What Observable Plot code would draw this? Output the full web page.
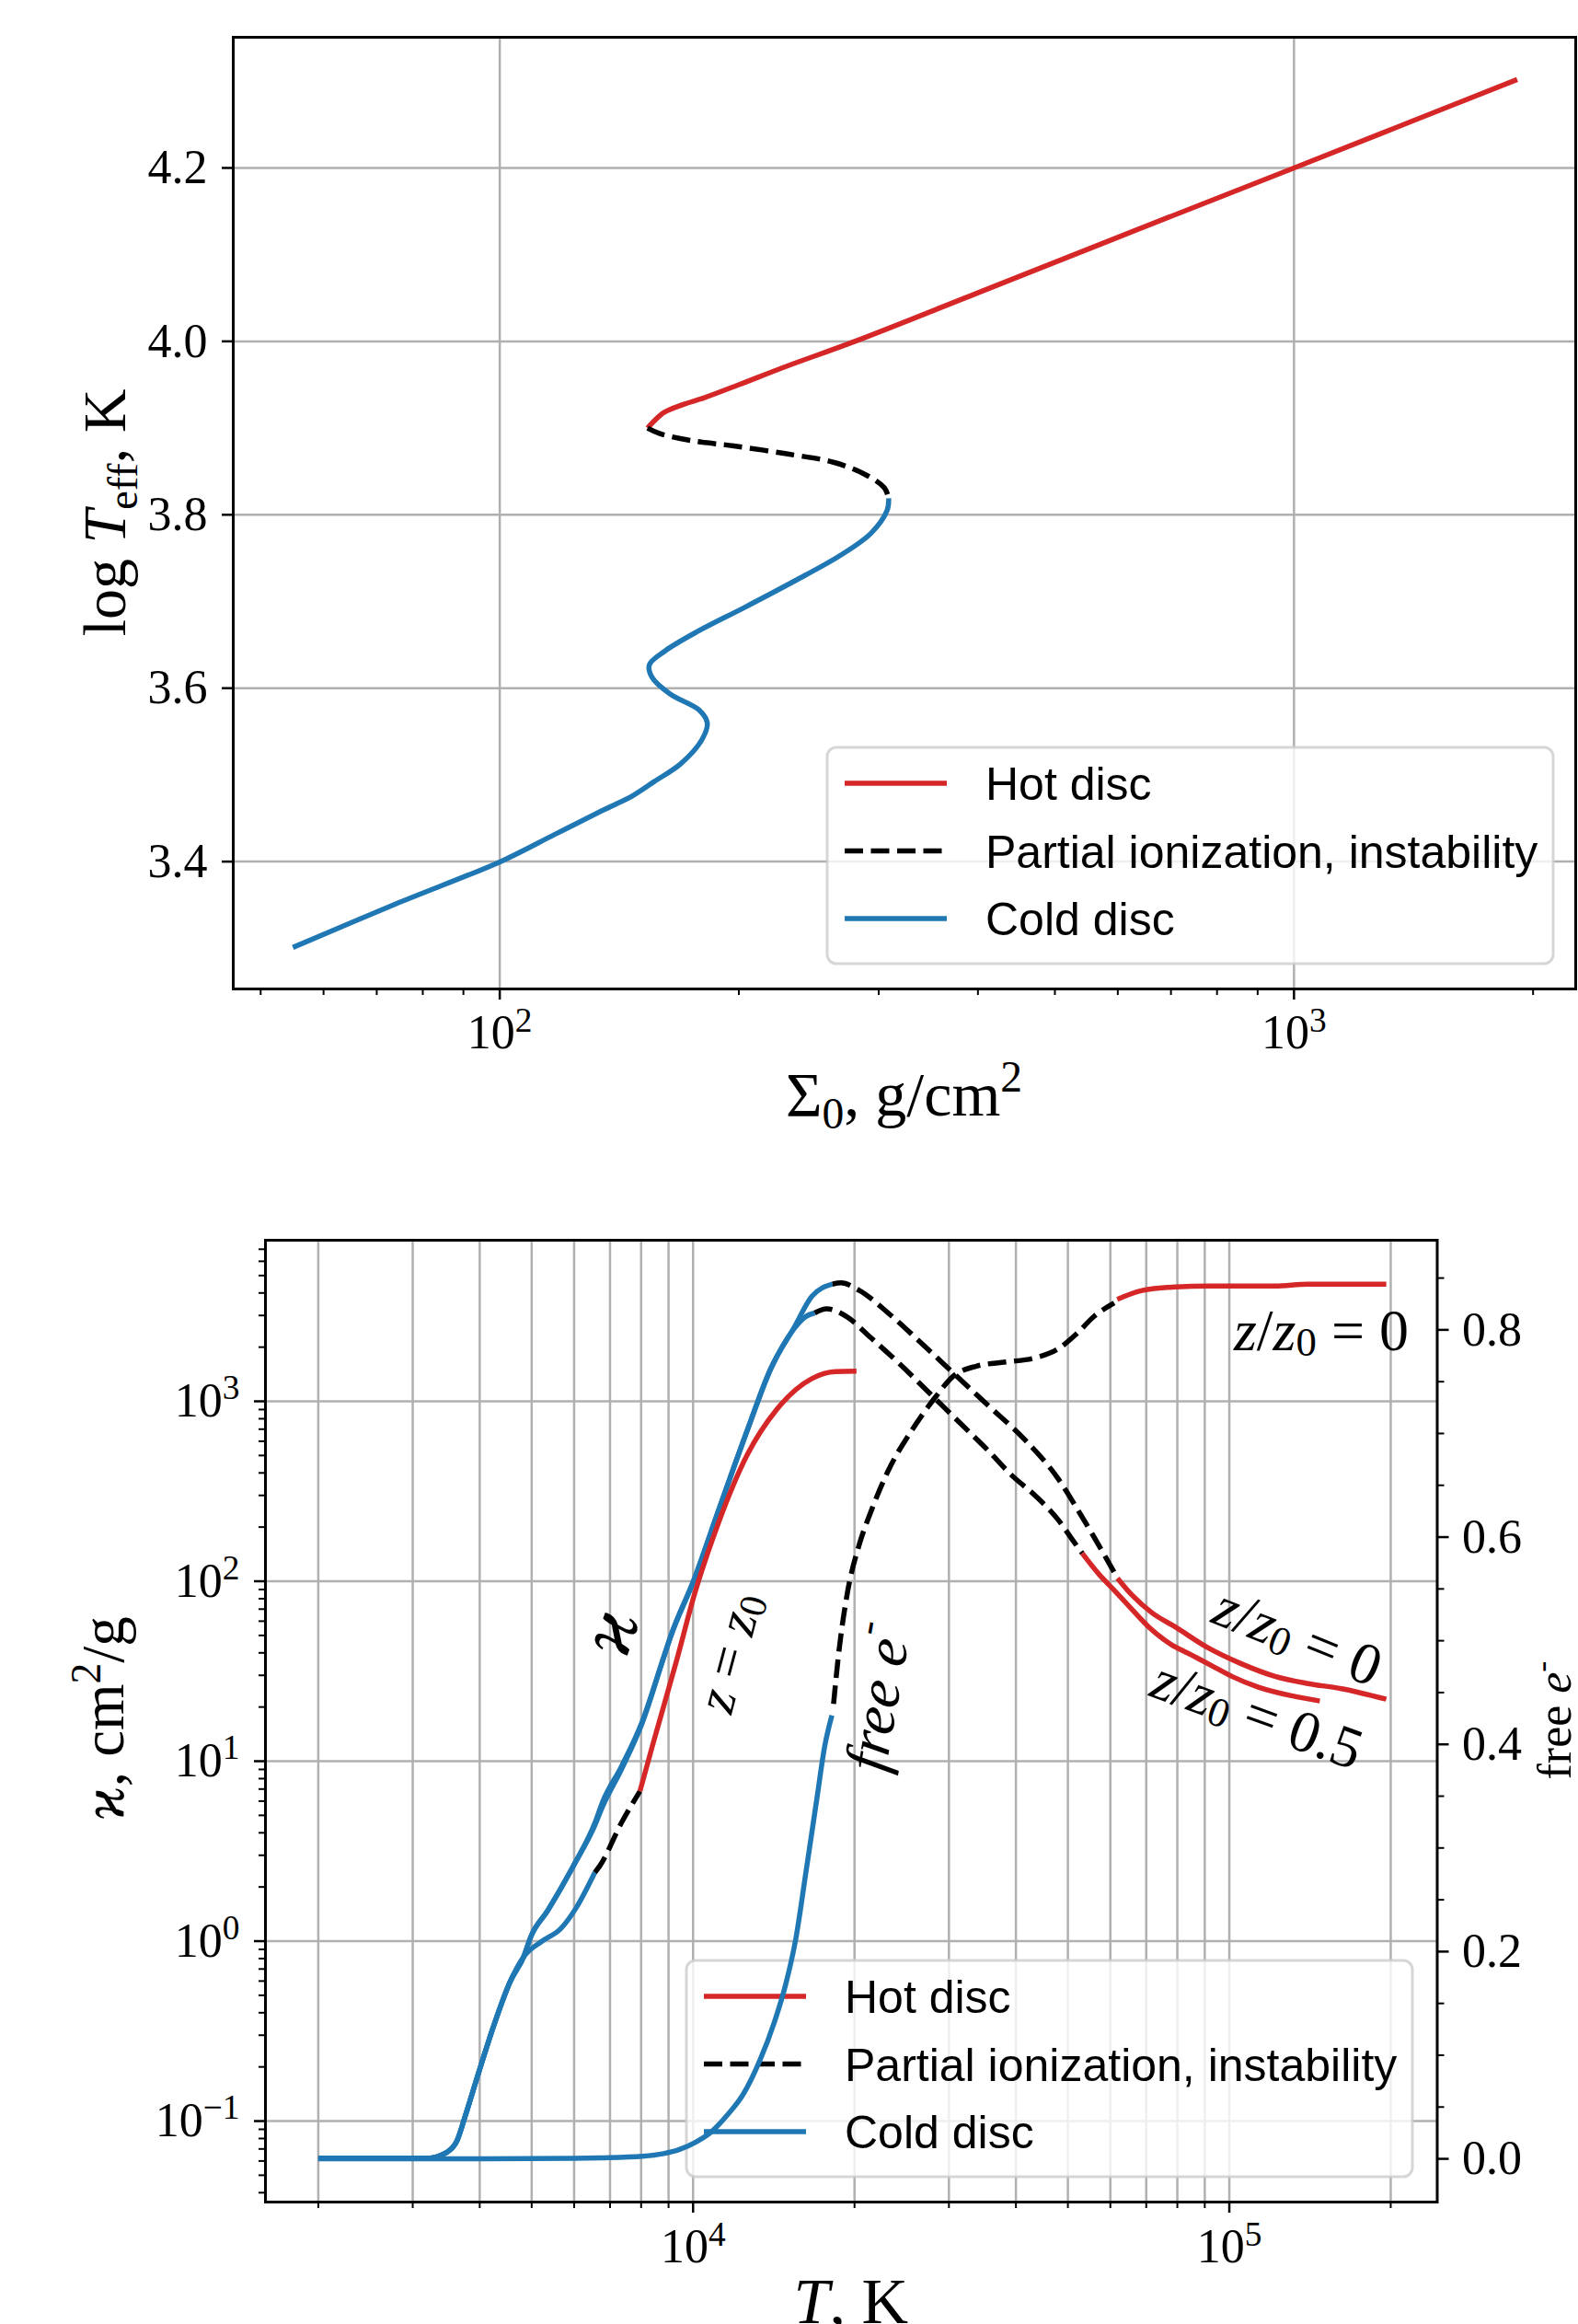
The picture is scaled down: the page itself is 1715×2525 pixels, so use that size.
<!DOCTYPE html>
<html>
<head>
<meta charset="utf-8">
<script src="https://cdn.jsdelivr.net/npm/d3@7"></script>
<script src="https://cdn.jsdelivr.net/npm/@observablehq/plot@0.6"></script>
<style>
  html, body { margin: 0; padding: 0; background: #fff; overflow: hidden; }
  #page { position: relative; width: 1715px; height: 2525px; overflow: hidden; background: #fff; }
  #page svg { position: absolute; left: 0; }
</style>
</head>
<body>
<div id="page"></div>
<script>
// ================= DATA =================
// ---- Top panel: log T_eff vs Sigma_0 (S-curve) ----
const hotSigma   = [153.5, 156, 161, 170, 181, 200, 230, 280, 400, 600, 1000, 1400, 1910];
const hotLogTeff = [3.900, 3.907, 3.918, 3.927, 3.935, 3.950, 3.9715, 4.000, 4.056, 4.120, 4.200, 4.253, 4.302];
const unstableSigma   = [153.5, 159.1, 174.4, 197.1, 229.7, 263.8, 289.1, 305, 308.8];
const unstableLogTeff = [3.900, 3.8936, 3.8855, 3.8794, 3.8703, 3.8603, 3.846, 3.831, 3.819];
const coldSigma   = [308.8, 307.4, 293.6, 267.7, 233.3, 203.2, 177.1, 161.5, 154.3, 155.5, 164.0, 178.4, 182.5, 179.8, 169.1, 156.5, 147, 138, 132.4, 117.1, 100.5, 73.9, 54.9];
const coldLogTeff = [3.819, 3.805, 3.779, 3.7525, 3.722, 3.693, 3.665, 3.643, 3.627, 3.6125, 3.593, 3.5745, 3.560, 3.541, 3.513, 3.4923, 3.476, 3.4636, 3.4556, 3.431, 3.4005, 3.351, 3.301];

// ---- Bottom panel: opacity kappa vs T (left axis) ----
// z/z0 = 0 (midplane)
const coldA_T     = [2000, 3170, 3470, 3630, 3760, 3980, 4260, 4560, 4830, 4990, 5350, 5990, 6560, 6780, 7350, 8050, 8810, 9090, 10060, 11120, 12620, 13960, 15440, 16650, 18190];
const coldA_kappa = [0.062, 0.062, 0.067, 0.078, 0.107, 0.185, 0.347, 0.596, 0.817, 1.07, 1.47, 2.64, 4.54, 5.94, 9.33, 16.8, 37.8, 49.9, 104, 242, 692, 1524, 2576, 3828, 4477];
const unstA_T     = [18190, 18890, 20390, 23110, 26220, 30510, 35510, 41300, 48060, 52490, 55940, 58800, 61860];
const unstA_kappa = [4477, 4550, 4140, 3097, 2203, 1445, 948, 624, 368, 242, 176, 136, 104];
const hotA_T      = [61860, 65880, 71780, 79300, 91500, 105500, 121700, 140300, 161800, 196200];
const hotA_kappa  = [104, 83.6, 66.7, 55.7, 42.5, 34.7, 29.6, 27.0, 25.3, 22.1];
// z/z0 = 0.5
const coldB_T     = [2000, 3170, 3470, 3630, 3760, 3980, 4260, 4560, 4830, 4990, 5350, 5990, 6560, 6780, 7350, 8050, 8810, 9090, 10060, 11120, 12620, 13960, 15440, 16200, 16860];
const coldB_kappa = [0.062, 0.062, 0.067, 0.078, 0.107, 0.185, 0.347, 0.596, 0.817, 1.07, 1.47, 2.64, 4.40, 5.60, 9.0, 16.5, 37.5, 49.6, 103, 240, 688, 1510, 2540, 2950, 3097];
const unstB_T     = [16860, 17740, 19380, 21440, 24320, 27590, 31300, 35510, 39280, 43450, 48060, 51200, 53180];
const unstB_kappa = [3097, 3266, 2944, 2259, 1607, 1112, 769, 532, 388, 299, 218, 167, 143];
const hotB_T      = [53180, 57140, 60500, 64950, 70760, 77090, 85150, 92800, 101100, 113300, 130700, 147500];
const hotB_kappa  = [143, 109.4, 91.4, 72.9, 55.7, 45.4, 38.8, 33.9, 29.6, 25.8, 23.1, 21.6];
// z = z0 (surface)
const coldC_T     = [2000, 3170, 3470, 3630, 3760, 3980, 4260, 4560, 4830, 5230, 5660, 6060, 6560];
const coldC_kappa = [0.062, 0.062, 0.067, 0.078, 0.107, 0.185, 0.347, 0.596, 0.817, 1.00, 1.17, 1.54, 2.41];
const unstC_T     = [6560, 6710, 7350, 7960];
const unstC_kappa = [2.41, 2.64, 4.54, 6.81];
const hotC_T      = [7960, 8425, 9320, 10055, 11120, 12620, 14315, 16650, 18420, 20170];
const hotC_kappa  = [6.81, 12.6, 36.4, 84.3, 206.5, 504.7, 899.5, 1337, 1462, 1469];

// ---- Bottom panel: fraction of free electrons (right axis) ----
const coldE_T    = [2000, 4000, 6000, 6710, 8050, 8810, 9430, 10100, 10810, 11570, 12390, 13270, 14200, 14860, 15540, 16270, 17020, 17610, 18150];
const coldE_free = [0, 0, 0.0005, 0.001, 0.0025, 0.005, 0.009, 0.016, 0.026, 0.042, 0.062, 0.093, 0.133, 0.167, 0.212, 0.280, 0.348, 0.399, 0.428];
const unstE_T    = [18280, 18660, 19380, 20390, 21440, 23110, 25580, 28300, 30510, 33750, 38290, 43450, 48060, 51850, 55940, 61000];
const unstE_free = [0.439, 0.485, 0.545, 0.592, 0.624, 0.664, 0.703, 0.735, 0.755, 0.765, 0.769, 0.773, 0.782, 0.796, 0.813, 0.826];
const hotE_T     = [61800, 68770, 79300, 91500, 121650, 140290, 196200];
const hotE_free  = [0.8295, 0.838, 0.8414, 0.8424, 0.8424, 0.8441, 0.8441];

// ---- Ticks ----
const topXMajor = [100, 1000];
const topXMinor = [50, 60, 70, 80, 90, 200, 300, 400, 500, 600, 700, 800, 900, 2000];
const topYTicks = [3.4, 3.6, 3.8, 4.0, 4.2];
const botXMajor = [10000, 100000];
const botXMinor = [2000, 3000, 4000, 5000, 6000, 7000, 8000, 9000, 20000, 30000, 40000, 50000, 60000, 70000, 80000, 90000, 200000];
const kappaMajor = [0.1, 1, 10, 100, 1000];
const kappaMinor = [0.04, 0.05, 0.06, 0.07, 0.08, 0.09, 0.2, 0.3, 0.4, 0.5, 0.6, 0.7, 0.8, 0.9, 2, 3, 4, 5, 6, 7, 8, 9, 20, 30, 40, 50, 60, 70, 80, 90, 200, 300, 400, 500, 600, 700, 800, 900, 2000, 3000, 4000, 5000, 6000, 7000];
const freeMajor = [0, 0.2, 0.4, 0.6, 0.8];
const freeMinor = [0.05, 0.1, 0.15, 0.25, 0.3, 0.35, 0.45, 0.5, 0.55, 0.65, 0.7, 0.75, 0.85];

// ---- Legend / annotations ----
const legendLabels = ["Hot disc", "Partial ionization, instability", "Cold disc"];
const annoT     = [6950, 11700, 22080, 148700, 134700, 113200];
const annoKappa = [52.6, 40.1, 22.5, 2478, 49.5, 18.2];

// ================= STYLE =================
const RED = "#d62728", BLUE = "#1f77b4", BLACK = "#000000", GRID = "#b0b0b0";
const SERIF = "'Liberation Serif', 'DejaVu Serif', serif";
const SANS = "'Liberation Sans', Arial, sans-serif";
const LW = 5.5, DASH = "20,8.5";
const TICK_FS = 52;

const rows = (xs, ys) => xs.map((x, i) => ({x, y: ys[i]}));
const SUP = {"-": "⁻", "0": "⁰", "1": "¹", "2": "²", "3": "³", "4": "⁴", "5": "⁵", "6": "⁶", "7": "⁷", "8": "⁸", "9": "⁹"};
const pow10 = d => "10" + String(Math.round(Math.log10(d))).split("").map(c => SUP[c]).join("");
const blank = () => "";

function solid(data, color, curve) {
  return Plot.line(data, {x: "x", y: "y", stroke: color, strokeWidth: LW, curve, strokeLinecap: "butt"});
}
function dashed(data, curve) {
  return Plot.line(data, {x: "x", y: "y", stroke: BLACK, strokeWidth: LW, curve, strokeDasharray: DASH, strokeLinecap: "butt"});
}

function scaleFn(plot, name) {
  const s = plot.scale(name);
  if (s && typeof s.apply === "function") return v => s.apply(v);
  return (s.type === "log" ? d3.scaleLog() : d3.scaleLinear()).domain(s.domain).range(s.range);
}

// turn "10²"-style tick labels into a proper superscript
function fixPowers(svg) {
  const inv = {"⁻": "−", "⁰": "0", "¹": "1", "²": "2", "³": "3", "⁴": "4", "⁵": "5", "⁶": "6", "⁷": "7", "⁸": "8", "⁹": "9"};
  d3.select(svg).selectAll("text").each(function() {
    const m = /^10([⁻⁰¹²³⁴⁵⁶⁷⁸⁹]+)$/.exec(this.textContent);
    if (!m) return;
    const exp = m[1].split("").map(c => inv[c]).join("");
    const sel = d3.select(this);
    sel.text(null);
    sel.append("tspan").text("10");
    sel.append("tspan").attr("font-size", "0.72em").attr("dy", "-0.5em").text(exp);
  });
}

function richText(svg, x, y, angle, segs, opt) {
  const size = opt.size;
  const t = d3.select(svg).append("text")
    .attr("transform", `translate(${x},${y}) rotate(${angle})`)
    .attr("text-anchor", opt.anchor || "middle")
    .attr("font-family", opt.family || SERIF)
    .attr("font-size", size)
    .attr("fill", "black");
  if (opt.central) t.attr("dominant-baseline", "central");
  let shift = 0;
  for (const s of segs) {
    const ts = t.append("tspan").text(s.t);
    if (s.i) ts.attr("font-style", "italic");
    const target = s.sub ? 0.2 * size : s.sup ? -0.38 * size : 0;
    if (target !== shift) ts.attr("dy", target - shift);
    if (s.sub || s.sup) ts.attr("font-size", 0.7 * size);
    shift = target;
  }
  return t;
}

function addLegend(svg, x0, y0) {
  const g = d3.select(svg).append("g").attr("transform", `translate(${x0},${y0})`);
  g.append("rect").attr("width", 789).attr("height", 235).attr("rx", 10).attr("ry", 10)
    .attr("fill", "white").attr("fill-opacity", 0.8)
    .attr("stroke", "#cccccc").attr("stroke-opacity", 0.8).attr("stroke-width", 3);
  const colors = [RED, BLACK, BLUE];
  legendLabels.forEach((label, i) => {
    const y = 39 + i * 73.5;
    const ln = g.append("line").attr("x1", 19).attr("x2", 130).attr("y1", y).attr("y2", y)
      .attr("stroke", colors[i]).attr("stroke-width", LW);
    if (i === 1) ln.attr("stroke-dasharray", DASH);
    g.append("text").attr("x", 172).attr("y", y + 18).text(label)
      .attr("text-anchor", "start")
      .attr("font-family", SANS).attr("font-size", 50).attr("fill", "black");
  });
}

const page = document.getElementById("page");
const baseStyle = {fontFamily: SERIF, fontSize: TICK_FS + "px", color: "black", background: "transparent", overflow: "hidden"};

// ================= TOP PANEL =================
const topPlot = Plot.plot({
  width: 1715, height: 1262,
  marginTop: 40, marginBottom: 188, marginLeft: 253, marginRight: 3,
  style: baseStyle,
  x: {type: "log", domain: [46.18, 2263]},
  y: {domain: [3.2531, 4.3507]},
  marks: [
    Plot.gridX(topXMajor, {stroke: GRID, strokeOpacity: 1, strokeWidth: 2.5}),
    Plot.gridY(topYTicks, {stroke: GRID, strokeOpacity: 1, strokeWidth: 2.5}),
    solid(rows(hotSigma, hotLogTeff), RED, "catmull-rom"),
    dashed(rows(unstableSigma, unstableLogTeff), "catmull-rom"),
    solid(rows(coldSigma, coldLogTeff), BLUE, "catmull-rom"),
    Plot.frame({stroke: "black", strokeWidth: 3}),
    Plot.axisX(topXMajor, {tickSize: 12, tickPadding: 16, tickFormat: pow10, label: null, strokeWidth: 2.5, fontSize: TICK_FS}),
    Plot.axisX(topXMinor, {tickSize: 7, tickFormat: blank, label: null, strokeWidth: 2}),
    Plot.axisY(topYTicks, {tickSize: 12, tickPadding: 16, tickFormat: d => d.toFixed(1), label: null, strokeWidth: 2.5, fontSize: TICK_FS})
  ]
});
topPlot.style.top = "0px";
page.appendChild(topPlot);
fixPowers(topPlot);
addLegend(topPlot, 899, 812);
richText(topPlot, 982.5, 1212, 0, [{t: "Σ"}, {t: "0", sub: true}, {t: ", g/cm"}, {t: "2", sup: true}], {size: 68});
richText(topPlot, 136, 557, -90, [{t: "log "}, {t: "T", i: true}, {t: "eff", sub: true}, {t: ", K"}], {size: 66});

// ================= BOTTOM PANEL (kappa, left axis) =================
const BOT_TOP = 1262;
const botCommon = {
  width: 1715, height: 1263,
  marginTop: 85, marginBottom: 133, marginLeft: 288, marginRight: 153.5,
  style: baseStyle
};
const botDomainX = [1594, 244200];
const kappaPlot = Plot.plot({
  ...botCommon,
  x: {type: "log", domain: botDomainX},
  y: {type: "log", domain: [0.03548, 7855]},
  marks: [
    Plot.gridX([...botXMinor, ...botXMajor], {stroke: GRID, strokeOpacity: 1, strokeWidth: 2.5}),
    Plot.gridY(kappaMajor, {stroke: GRID, strokeOpacity: 1, strokeWidth: 2.5}),
    solid(rows(coldA_T, coldA_kappa), BLUE, "monotone-x"),
    solid(rows(coldB_T, coldB_kappa), BLUE, "monotone-x"),
    solid(rows(coldC_T, coldC_kappa), BLUE, "monotone-x"),
    dashed(rows(unstA_T, unstA_kappa), "monotone-x"),
    dashed(rows(unstB_T, unstB_kappa), "monotone-x"),
    dashed(rows(unstC_T, unstC_kappa), "monotone-x"),
    solid(rows(hotA_T, hotA_kappa), RED, "monotone-x"),
    solid(rows(hotB_T, hotB_kappa), RED, "monotone-x"),
    solid(rows(hotC_T, hotC_kappa), RED, "monotone-x"),
    Plot.frame({stroke: "black", strokeWidth: 3}),
    Plot.axisX(botXMajor, {tickSize: 12, tickPadding: 17, tickFormat: pow10, label: null, strokeWidth: 2.5, fontSize: TICK_FS}),
    Plot.axisX(botXMinor, {tickSize: 7, tickFormat: blank, label: null, strokeWidth: 2}),
    Plot.axisY(kappaMajor, {tickSize: 12, tickPadding: 16, tickFormat: pow10, label: null, strokeWidth: 2.5, fontSize: TICK_FS}),
    Plot.axisY(kappaMinor, {tickSize: 7, tickFormat: blank, label: null, strokeWidth: 2})
  ]
});
kappaPlot.style.top = BOT_TOP + "px";
page.appendChild(kappaPlot);
fixPowers(kappaPlot);
addLegend(kappaPlot, 746, 2130 - BOT_TOP);
richText(kappaPlot, 924.75, 2524 - BOT_TOP, 0, [{t: "T", i: true}, {t: ", K"}], {size: 70});
richText(kappaPlot, 134, 1867 - BOT_TOP, -90, [{t: "ϰ", i: true}, {t: ", cm"}, {t: "2", sup: true}, {t: "/g"}], {size: 65});

// ================= BOTTOM PANEL (free electrons, right axis overlay) =================
const freePlot = Plot.plot({
  ...botCommon,
  x: {type: "log", domain: botDomainX, axis: null},
  y: {domain: [-0.0417, 0.8865]},
  marks: [
    solid(rows(coldE_T, coldE_free), BLUE, "monotone-x"),
    dashed(rows(unstE_T, unstE_free), "monotone-x"),
    solid(rows(hotE_T, hotE_free), RED, "monotone-x"),
    Plot.axisY(freeMajor, {anchor: "right", tickSize: 12, tickPadding: 15, tickFormat: d => d.toFixed(1), label: null, strokeWidth: 2.5, fontSize: TICK_FS}),
    Plot.axisY(freeMinor, {anchor: "right", tickSize: 7, tickFormat: blank, label: null, strokeWidth: 2})
  ]
});
freePlot.style.top = BOT_TOP + "px";
page.appendChild(freePlot);
richText(freePlot, 1707, 1869 - BOT_TOP, -90, [{t: "free "}, {t: "e", i: true}, {t: "-", sup: true}], {size: 52});

// annotations (positioned through the kappa plot's scales)
const sx = scaleFn(kappaPlot, "x"), sy = scaleFn(kappaPlot, "y");
const annoSegs = [
  [{t: "ϰ", i: true}],
  [{t: "z", i: true}, {t: " = "}, {t: "z", i: true}, {t: "0", sub: true}],
  [{t: "free e", i: true}, {t: "-", sup: true}],
  [{t: "z", i: true}, {t: "/"}, {t: "z", i: true}, {t: "0", sub: true}, {t: " = 0"}],
  [{t: "z", i: true}, {t: "/"}, {t: "z", i: true}, {t: "0", sub: true}, {t: " = 0"}],
  [{t: "z", i: true}, {t: "/"}, {t: "z", i: true}, {t: "0", sub: true}, {t: " = 0.5"}]
];
const annoRot = [-70, -75, -80, 0, 22, 20];
const annoSize = [84, 60, 66, 64, 64, 64];
annoSegs.forEach((segs, i) => {
  richText(freePlot, sx(annoT[i]), sy(annoKappa[i]), annoRot[i], segs, {size: annoSize[i], central: true});
});
</script>
</body>
</html>
